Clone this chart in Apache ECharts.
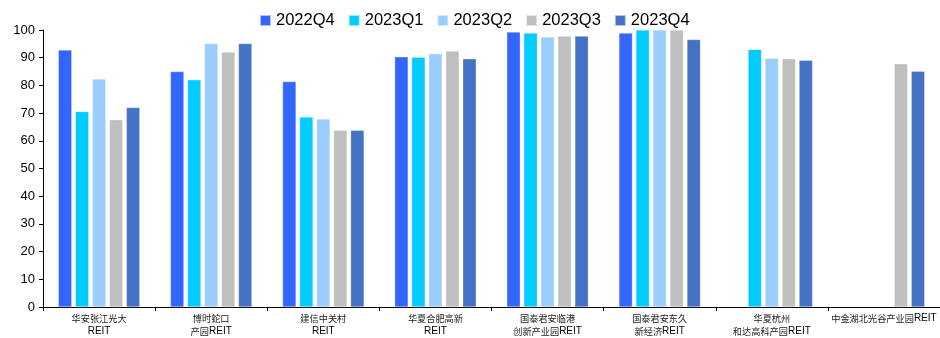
<!DOCTYPE html>
<html>
<head>
<meta charset="utf-8">
<script src="https://cdn.jsdelivr.net/npm/echarts@6/dist/echarts.min.js"></script>
<style>
  html, body { margin: 0; padding: 0; background: #fff; }
  #chart { width: 940px; height: 338px; }
</style>
</head>
<body>
<div id="chart"></div>
<script>
// 类别与各季度出租率（%）
const categories = [
  '华安张江光大\nREIT',
  '博时蛇口\n产园REIT',
  '建信中关村\nREIT',
  '华夏合肥高新\nREIT',
  '国泰君安临港\n创新产业园REIT',
  '国泰君安东久\n新经济REIT',
  '华夏杭州\n和达高科产园REIT',
  '中金湖北光谷产业园REIT'
]
const seriesNames = ['2022Q4', '2023Q1', '2023Q2', '2023Q3', '2023Q4']
const colors = ['#3366FF', '#00CCFF', '#99CCFF', '#BFBFBF', '#4472C4']
const q2022Q4 = [92.8, 85.0, 81.4, 90.3, 99.3, 98.9, null, null]
const q2023Q1 = [70.6, 82.0, 68.6, 90.2, 98.9, 100, 93.0, null]
const q2023Q2 = [82.3, 95.1, 67.9, 91.4, 97.5, 100, 89.8, null]
const q2023Q3 = [67.6, 92.1, 63.8, 92.4, 97.8, 100, 89.6, 87.8]
const q2023Q4 = [72.0, 95.1, 63.8, 89.6, 97.8, 96.6, 89.1, 85.1]
const values = [q2022Q4, q2023Q1, q2023Q2, q2023Q3, q2023Q4]

// 中文用小号字，REIT 用 Arial 系字体
const fmtLabel = v => v.split('\n').map(line =>
  line.replace(/REIT/, '}{r|REIT}{c|').replace(/^/, '{c|').replace(/$/, '}').replace(/\{c\|\}/g, '')
).join('\n')

const chart = echarts.init(document.getElementById('chart'))
chart.setOption({
  animation: false,
  textStyle: { fontFamily: 'Liberation Sans, Noto Sans CJK SC' },
  legend: {
    top: 7,
    left: 254,
    itemWidth: 11,
    itemHeight: 11,
    itemGap: 13,
    icon: 'rect',
    textStyle: { fontSize: 16.5, color: '#000', fontFamily: 'Liberation Sans' },
    data: seriesNames
  },
  grid: { left: 43, right: 0, top: 30, bottom: 30 },
  xAxis: {
    type: 'category',
    data: categories,
    axisLine: { lineStyle: { color: '#000', width: 1 } },
    axisTick: { show: true, length: 4, inside: false, lineStyle: { color: '#000' } },
    axisLabel: {
      interval: 0,
      margin: 5,
      lineHeight: 13,
      formatter: fmtLabel,
      rich: {
        c: { fontSize: 9.2, lineHeight: 13, color: '#222', fontFamily: 'Noto Sans CJK SC' },
        r: { fontSize: 10, lineHeight: 13, color: '#000', fontFamily: 'Liberation Sans' }
      }
    }
  },
  yAxis: {
    type: 'value',
    min: 0,
    max: 100,
    interval: 10,
    splitLine: { show: false },
    axisLine: { show: true, lineStyle: { color: '#000', width: 1 } },
    axisTick: { show: true, length: 4, lineStyle: { color: '#000' } },
    axisLabel: { fontSize: 13, color: '#000', margin: 8, fontFamily: 'Liberation Sans' }
  },
  series: seriesNames.map((name, i) => ({
    name: name,
    type: 'bar',
    data: values[i],
    barWidth: 13.5,
    barGap: '26%',
    itemStyle: { color: colors[i], borderColor: 'rgba(255,255,255,0.6)', borderWidth: 0.5 }
  }))
})
</script>
</body>
</html>
